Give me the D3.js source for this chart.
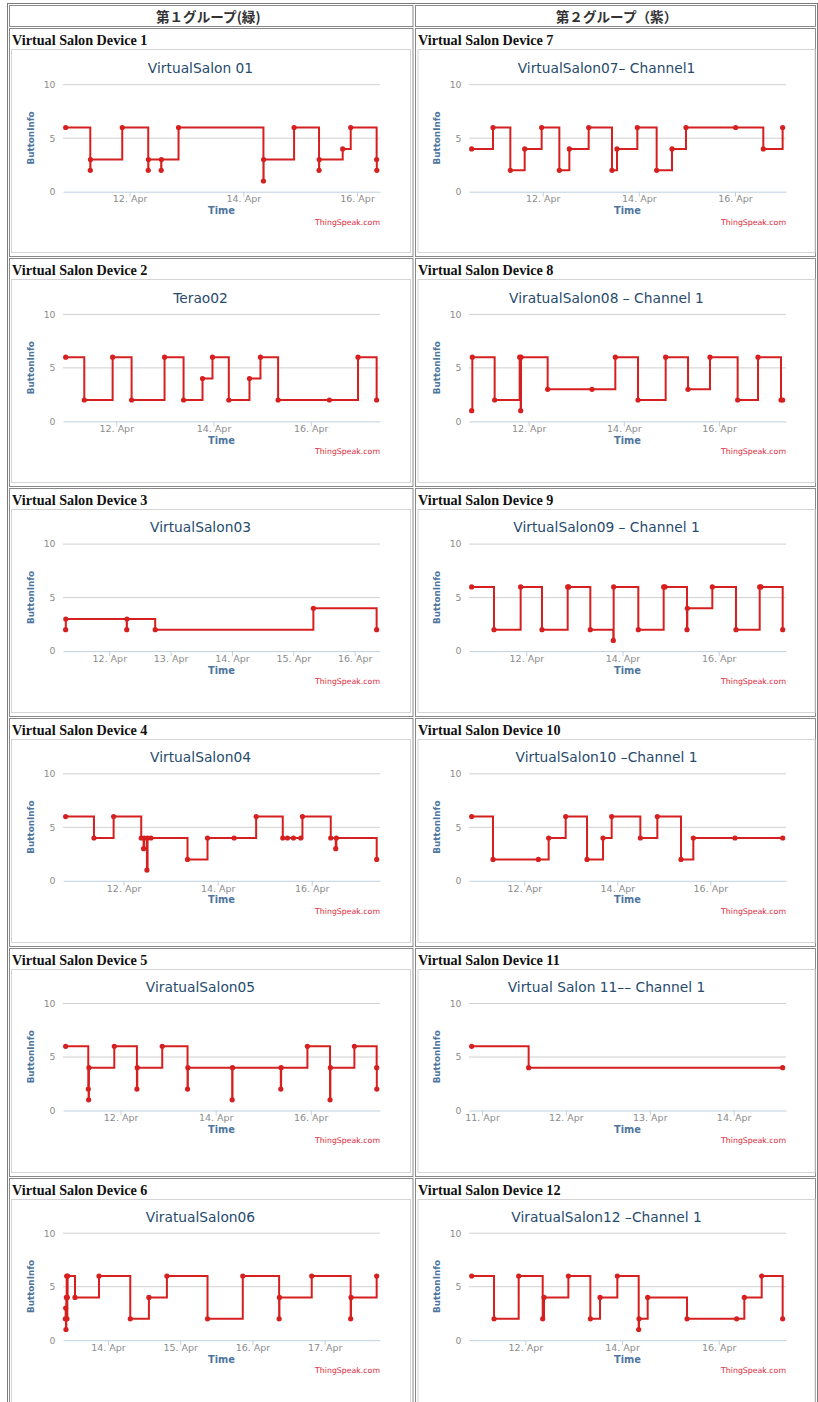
<!DOCTYPE html>
<html><head><meta charset="utf-8">
<script src="https://cdn.jsdelivr.net/npm/d3@7"></script>
<style>body{margin:0;background:#fff}svg{display:block}</style>
</head><body><svg id="c" width="818" height="1402"></svg>
<script>
const groupHeaders = ["第１グループ(緑)", "第２グループ（紫）"];
const deviceNames = ["Virtual Salon Device 1","Virtual Salon Device 2","Virtual Salon Device 3","Virtual Salon Device 4","Virtual Salon Device 5","Virtual Salon Device 6","Virtual Salon Device 7","Virtual Salon Device 8","Virtual Salon Device 9","Virtual Salon Device 10","Virtual Salon Device 11","Virtual Salon Device 12"];
const chartTitles = ["VirtualSalon 01","Terao02","VirtualSalon03","VirtualSalon04","ViratualSalon05","ViratualSalon06","VirtualSalon07– Channel1","ViratualSalon08 – Channel 1","VirtualSalon09 – Channel 1","VirtualSalon10 –Channel 1","Virtual Salon 11–– Channel 1","ViratualSalon12 –Channel 1"];
const yTicks = [0, 5, 10];
const yAxisTitle = "ButtonInfo";
const xAxisTitle = "Time";
const creditText = "ThingSpeak.com";

// times are fractional days of April
const d1Times = [10.876,11.309,11.312,11.871,12.328,12.331,12.556,12.559,12.861,14.354,14.357,14.893,15.332,15.335,15.748,15.889,16.345,16.348];
const d1Values = [6,2,3,6,2,3,2,3,6,1,3,6,2,3,4,6,3,2];
const d1Domain = [10.829,16.404];
const d1Ticks = [12,14,16];

const d2Times = [10.959,11.342,11.925,12.315,12.993,13.384,13.774,13.979,14.315,14.740,14.966,15.329,16.384,16.973,17.356];
const d2Values = [6,2,6,2,6,2,4,6,2,4,6,2,2,6,2];
const d2Domain = [10.904,17.425];
const d2Ticks = [12,14,16];

const d3Times = [11.289,11.292,12.285,12.288,12.749,15.327,16.358];
const d3Values = [2,3,2,3,2,4,2];
const d3Domain = [11.246,16.413];
const d3Ticks = [12,13,14,15,16];

const d4Times = [10.768,11.370,11.788,12.375,12.425,12.439,12.496,12.510,12.581,13.359,13.784,14.350,14.818,15.384,15.483,15.611,15.766,15.802,16.404,16.510,16.524,17.381];
const d4Values = [6,4,6,4,3,4,1,4,4,2,4,4,6,4,4,4,4,6,4,3,4,2];
const d4Domain = [10.712,17.451];
const d4Ticks = [12,14,16];

const d5Times = [10.844,11.320,11.327,11.334,11.867,12.343,12.350,12.876,13.408,13.415,14.347,14.354,15.370,15.377,15.930,16.406,16.413,16.918,17.387,17.390];
const d5Values = [6,2,1,4,6,2,4,6,2,4,1,4,2,4,6,1,4,6,4,2];
const d5Domain = [10.788,17.457];
const d5Ticks = [12,14,16];

const d6Times = [13.410,13.415,13.419,13.424,13.429,13.433,13.438,13.442,13.544,13.876,14.309,14.567,14.816,15.378,15.866,16.369,16.373,16.820,17.359,17.364,17.719];
const d6Values = [2,3,1,4,6,2,4,6,4,6,2,4,6,2,6,2,4,6,2,4,6];
const d6Domain = [13.378,17.765];
const d6Ticks = [14,15,16,17];

const d7Times = [10.523,10.967,11.328,11.626,11.979,12.347,12.555,12.957,13.442,13.546,13.969,14.371,14.690,14.981,16.014,16.589,16.991];
const d7Values = [4,6,2,4,6,2,4,6,2,4,6,2,4,6,6,4,6];
const d7Domain = [10.468,17.061];
const d7Ticks = [12,14,16];

const d8Times = [10.802,10.816,11.285,11.811,11.832,11.839,12.399,13.331,13.821,14.298,14.879,15.349,15.811,16.392,16.820,17.303,17.338];
const d8Values = [1,6,2,6,1,6,3,3,6,2,6,3,6,2,6,2,2];
const d8Domain = [10.746,17.408];
const d8Ticks = [12,14,16];

const d9Times = [10.863,11.328,11.882,12.326,12.860,12.880,13.331,13.809,13.816,14.329,14.856,14.884,15.341,15.348,15.868,16.360,16.853,16.880,17.331];
const d9Values = [6,2,6,2,6,6,2,1,6,2,6,6,2,4,6,2,6,6,2];
const d9Domain = [10.808,17.400];
const d9Ticks = [12,14,16];

const d10Times = [10.867,11.326,12.301,12.523,12.889,13.348,13.692,13.878,14.495,14.860,15.369,15.634,16.530,17.556];
const d10Values = [6,2,2,4,6,2,4,6,4,6,2,4,4,4];
const d10Domain = [10.810,17.627];
const d10Ticks = [12,14,16];

const d11Times = [10.877,11.556,14.584];
const d11Values = [6,4,4];
const d11Domain = [10.845,14.624];
const d11Ticks = [11,12,13,14];

const d12Times = [10.890,11.352,11.862,12.359,12.386,12.890,13.345,13.545,13.903,14.345,14.352,14.531,15.345,16.372,16.531,16.890,17.324];
const d12Values = [6,2,6,2,4,6,2,4,6,1,2,4,2,2,4,6,2];
const d12Domain = [10.834,17.393];
const d12Ticks = [12,14,16];

const devices = [
  [d1Times,d1Values,d1Domain,d1Ticks],[d2Times,d2Values,d2Domain,d2Ticks],[d3Times,d3Values,d3Domain,d3Ticks],
  [d4Times,d4Values,d4Domain,d4Ticks],[d5Times,d5Values,d5Domain,d5Ticks],[d6Times,d6Values,d6Domain,d6Ticks],
  [d7Times,d7Values,d7Domain,d7Ticks],[d8Times,d8Values,d8Domain,d8Ticks],[d9Times,d9Values,d9Domain,d9Ticks],
  [d10Times,d10Values,d10Domain,d10Ticks],[d11Times,d11Values,d11Domain,d11Ticks],[d12Times,d12Values,d12Domain,d12Ticks]
].map((a,i)=>({times:a[0],values:a[1],domain:a[2],ticks:a[3],name:deviceNames[i],title:chartTitles[i]}));

const svg = d3.select("#c");
const base = Date.UTC(2015,3,1);
const toDate = d => new Date(base + (d-1)*864e5);
const fmt = d3.utcFormat("%-d. %b");
const PITCH = 229.7;   // chart content pitch
const CPITCH = 230;    // cell pitch
const COLOFF = [0, 406];
const SANS = "'DejaVu Sans', Verdana, sans-serif";
const RED = "#d62020";

// table structure
svg.append("rect").attr("x",7.5).attr("y",3.5).attr("width",810).attr("height",1420)
  .attr("fill","none").attr("stroke","#7a7a7a");
const cellX = [[9.5,413],[415.5,815.5]];
cellX.forEach((cx,ci)=>{
  svg.append("rect").attr("x",cx[0]).attr("y",5.5).attr("width",cx[1]-cx[0]).attr("height",21)
    .attr("fill","none").attr("stroke","#8a8a8a");
  svg.append("text").attr("x",(cx[0]+cx[1])/2 + (ci===0?-3:1)).attr("y",21.5).attr("text-anchor","middle")
    .attr("font-family","'Noto Sans CJK JP', sans-serif").attr("font-weight","bold")
    .attr("font-size",13.6).attr("fill","#333")
    .text(groupHeaders[ci]);
  for(let r=0;r<6;r++){
    svg.append("rect").attr("x",cx[0]).attr("y",28.5+CPITCH*r).attr("width",cx[1]-cx[0]).attr("height",228)
      .attr("fill","none").attr("stroke","#8a8a8a");
  }
});

function drawChart(dev, col, row){
  const px = COLOFF[col], py = PITCH*row, cy = CPITCH*row;
  const g = svg.append("g");
  // device heading
  g.append("text").attr("x",12+px).attr("y",44.8+cy)
    .attr("font-family","'Liberation Serif', 'Times New Roman', serif").attr("font-weight","bold")
    .attr("font-size",14.2).attr("fill","#111").text(dev.name);
  // frame
  g.append("rect").attr("x",11.5+px+(col?0.5:0)).attr("y",49.5+cy).attr("width",col?397:399).attr("height",203)
    .attr("fill","none").attr("stroke","#d4d4d4");

  const x = d3.scaleUtc().domain(dev.domain.map(toDate)).range([63+px, 380+px]);
  const y = d3.scaleLinear().domain([0,10]).range([191.7+py, 84.7+py]);
  const [x0,x1] = x.range();

  // title
  g.append("text").attr("x",(x0+x1)/2-21).attr("y",73+py).attr("text-anchor","middle")
    .attr("font-family",SANS).attr("font-size",13.8).attr("fill","#274b6d").text(dev.title);

  // gridlines
  g.selectAll(null).data(yTicks.filter(t=>t>0)).join("line")
    .attr("x1",x0).attr("x2",x1).attr("y1",d=>y(d)).attr("y2",d=>y(d))
    .attr("stroke","#d0d0d0").attr("stroke-width",1);

  // x axis
  const ax = g.append("g").attr("transform",`translate(0,${y(0)})`)
    .call(d3.axisBottom(x).tickValues(dev.ticks.map(toDate)).tickFormat(fmt).tickSize(5).tickSizeOuter(0));
  ax.select(".domain").attr("stroke","#c0d0e0");
  ax.selectAll(".tick line").attr("stroke","#c0d0e0");
  ax.selectAll(".tick text").attr("y",4).attr("dy","0.71em").attr("fill","#8c8c8c")
    .attr("font-family",SANS).attr("font-size",9.5);

  // y labels
  g.selectAll(null).data(yTicks).join("text")
    .attr("x",55.5+px).attr("y",d=>y(d)+3.3).attr("text-anchor","end")
    .attr("font-family",SANS).attr("font-size",9.3).attr("fill","#8c8c8c").text(d=>d);

  // axis titles
  g.append("text").attr("transform",`translate(${34+px},${138+py}) rotate(-90)`).attr("text-anchor","middle")
    .attr("font-family",SANS).attr("font-weight","bold").attr("font-size",8.8).attr("fill","#4d759e").text(yAxisTitle);
  g.append("text").attr("x",(x0+x1)/2).attr("y",214.2+py).attr("text-anchor","middle")
    .attr("font-family",SANS).attr("font-weight","bold").attr("font-size",9.8).attr("fill","#4d759e").text(xAxisTitle);
  g.append("text").attr("x",x1).attr("y",224.5+py).attr("text-anchor","end")
    .attr("font-family",SANS).attr("font-size",7.8).attr("fill","#e0283a").text(creditText);

  // series
  const pts = dev.times.map((t,i)=>({t:toDate(t), v:dev.values[i]}));
  const line = d3.line().x(d=>x(d.t)).y(d=>y(d.v)).curve(d3.curveStepAfter);
  g.append("path").datum(pts).attr("d",line).attr("fill","none")
    .attr("stroke",RED).attr("stroke-width",2).attr("stroke-linejoin","miter");
  g.selectAll(null).data(pts).join("circle")
    .attr("cx",d=>x(d.t)).attr("cy",d=>y(d.v)).attr("r",2.6).attr("fill",RED);
}

devices.forEach((dev,i)=>{
  const col = i < 6 ? 0 : 1;
  const row = i % 6;
  drawChart(dev, col, row);
});
</script></body></html>
